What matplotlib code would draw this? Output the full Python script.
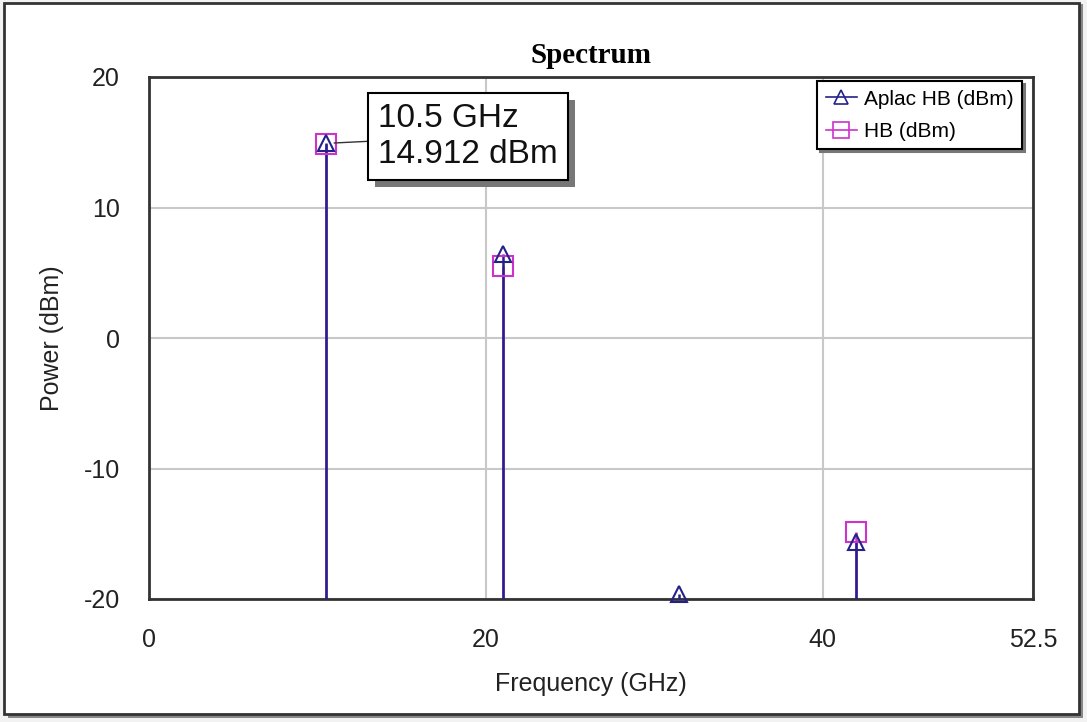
import numpy as np
import matplotlib
matplotlib.use("Agg")
import matplotlib.pyplot as plt
from matplotlib.patches import Rectangle
from matplotlib.lines import Line2D
import matplotlib.patheffects as pe

# harmonic spectrum, values
freq_aplac = [10.5, 21.0, 31.5, 42.0]
pwr_aplac = [14.912, 6.4, -19.6, -15.6]
freq_hb = [10.5, 21.0, 42.0]
pwr_hb = [14.9, 5.5, -14.9]

xticks = [0, 20, 40, 52.5]
xticklabels = ["0", "20", "40", "52.5"]
yticks = [-20, -10, 0, 10, 20]

navy = "#25208a"
magenta = "#cc33cc"

plt.rcParams['font.family'] = ['Liberation Sans', 'DejaVu Sans']
plt.rcParams['axes.unicode_minus'] = False

fig = plt.figure(figsize=(10.87, 7.22), dpi=100)
fig.patch.set_facecolor("#f2f2f2")

# outer frame with shadow
W, H = 1087.0, 722.0
fig.patches.append(Rectangle((8 / W, 1 - 718 / H), 1075 / W, 714 / H, transform=fig.transFigure,
                             facecolor="#888888", edgecolor="none", zorder=-3))
fig.patches.append(Rectangle((4 / W, 1 - 714 / H), 1075 / W, 711 / H, transform=fig.transFigure,
                             facecolor="white", edgecolor="#333333", lw=2, zorder=-2))

ax = fig.add_axes([149 / W, 1 - 599 / H, (1033 - 149) / W, (599 - 77) / H])
ax.set_facecolor("white")

# stems
ax.vlines(freq_hb, -20, pwr_hb, color=magenta, lw=1.8, zorder=2)
ax.vlines(freq_aplac, -20, pwr_aplac, color=navy, lw=1.8, zorder=3)
ax.plot(freq_hb, pwr_hb, ls="none", marker="s", ms=14, mfc="none", mec=magenta, mew=1.5,
        color=magenta, label="HB (dBm)", zorder=4, clip_on=False)
ax.plot(freq_aplac, pwr_aplac, ls="none", marker="^", ms=12, mfc="none", mec=navy, mew=1.5,
        color=navy, label="Aplac HB (dBm)", zorder=5, clip_on=False)

ax.set_xlim(0, 52.5)
ax.set_ylim(-20, 20)
ax.set_xticks(xticks)
ax.set_xticklabels(xticklabels)
ax.set_yticks(yticks)
ax.tick_params(length=0, labelsize=18, colors="#222222", pad=21)
ax.grid(True, color="#c8c8c8", lw=1.5)
ax.set_axisbelow(True)
for s in ax.spines.values():
    s.set_color("#333333")
    s.set_linewidth(2)

ax.set_xlabel("Frequency (GHz)", fontsize=18, color="#222222", labelpad=14)
ax.set_ylabel("Power (dBm)", fontsize=18, color="#222222", labelpad=14)
ax.set_title("Spectrum", fontsize=21, fontweight="bold", family="Liberation Serif", pad=10)

# legend with line+marker handles
handles = [Line2D([], [], color=navy, marker="^", ms=10, mfc="none", mew=1.2, lw=1.2),
           Line2D([], [], color=magenta, marker="s", ms=12, mfc="none", mew=1.2, lw=1.2)]
leg = ax.legend(handles, ["Aplac HB (dBm)", "HB (dBm)"], loc="upper right",
                bbox_to_anchor=(0.9876, 0.992), fontsize=15, frameon=True, fancybox=False,
                shadow={"color": "#777777", "alpha": 1}, edgecolor="black", framealpha=1,
                handlelength=1.5, handletextpad=0.35, borderpad=0.4, labelspacing=0.65,
                borderaxespad=0)
leg.get_frame().set_linewidth(1.5)

# marker readout
ann = ax.annotate("10.5 GHz\n14.912 dBm", xy=(freq_aplac[0], pwr_aplac[0]),
                  xytext=(13.6, 15.45), fontsize=24, color="#111111",
                  va="center", ha="left", linespacing=1.2,
                  bbox=dict(boxstyle="square,pad=0.3", fc="white", ec="black", lw=1.5),
                  arrowprops=dict(arrowstyle="-", color="#333333", lw=1, shrinkA=0, shrinkB=6),
                  zorder=10)
ann.get_bbox_patch().set_path_effects([pe.SimplePatchShadow(offset=(5, -5), shadow_rgbFace="#777777", alpha=1),
                                       pe.Normal()])

fig.savefig("out.png", dpi=100, facecolor=fig.get_facecolor())
